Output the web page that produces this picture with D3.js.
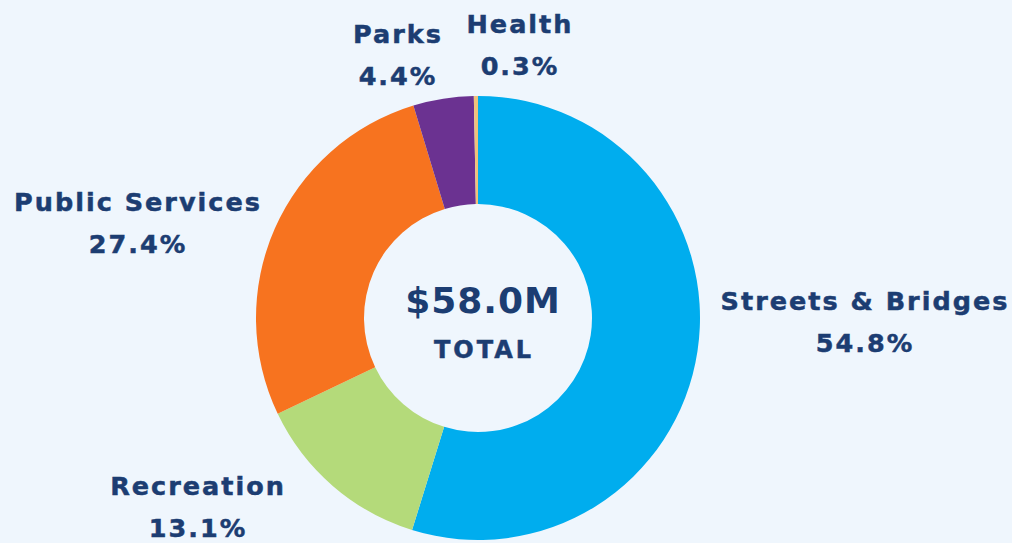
<!DOCTYPE html>
<html>
<head>
<meta charset="utf-8">
<script src="https://cdn.jsdelivr.net/npm/d3@7"></script>
<style>
  html, body { margin: 0; padding: 0; background: #eff6fd; }
  svg { display: block; }
  .label {
    font-family: "DejaVu Sans", sans-serif; font-weight: bold;
    fill: #1c3d72; stroke: #1c3d72; stroke-width: 0.5px;
  }
</style>
</head>
<body>
<div id="chart"></div>
<script>
// Spending by category (share of total, %)
const categories = ["Streets & Bridges", "Recreation", "Public Services", "Parks", "Health"];
const shares = [54.8, 13.1, 27.4, 4.4, 0.3];
const colors = ["#00adee", "#b4da7a", "#f7731f", "#6b3291", "#f0c27c"];
const totalLabel = "$58.0M";

const width = 1012, height = 543;
const cx = 478, cy = 318;
const outerR = 222, innerR = 114;

const svg = d3.select("#chart").append("svg")
  .attr("width", width)
  .attr("height", height);

const g = svg.append("g").attr("transform", `translate(${cx},${cy})`);

const pie = d3.pie().sort(null).value(d => d.value);
const arc = d3.arc().innerRadius(innerR).outerRadius(outerR);

const data = categories.map((c, i) => ({ name: c, value: shares[i], color: colors[i] }));

g.selectAll("path.slice")
  .data(pie(data))
  .enter().append("path")
  .attr("class", "slice")
  .attr("d", arc)
  .attr("fill", d => d.data.color);

// label positions (centre x, baseline of first line) placed by hand like the original
const labelPos = {
  "Streets & Bridges": [865, 310],
  "Recreation": [198, 495],
  "Public Services": [138, 211],
  "Parks": [398, 43],
  "Health": [520, 33]
};

data.forEach(d => {
  const [x, y] = labelPos[d.name];
  const t = svg.append("text")
    .attr("class", "label")
    .attr("text-anchor", "middle")
    .style("font-size", "25.5px")
    .style("letter-spacing", "2px");
  t.append("tspan").attr("x", x).attr("y", y).text(d.name);
  t.append("tspan").attr("x", x).attr("y", y + 42).text(d.value.toFixed(1) + "%");
});

// centre total
g.append("text")
  .attr("class", "label")
  .attr("text-anchor", "middle")
  .attr("x", 5).attr("y", -5)
  .style("font-size", "36px")
  .style("stroke-width", "0px")
  .style("letter-spacing", "1px")
  .text(totalLabel);

g.append("text")
  .attr("class", "label")
  .attr("text-anchor", "middle")
  .attr("x", 6).attr("y", 40)
  .style("font-size", "24px")
  .style("letter-spacing", "3px")
  .text("TOTAL");
</script>
</body>
</html>
